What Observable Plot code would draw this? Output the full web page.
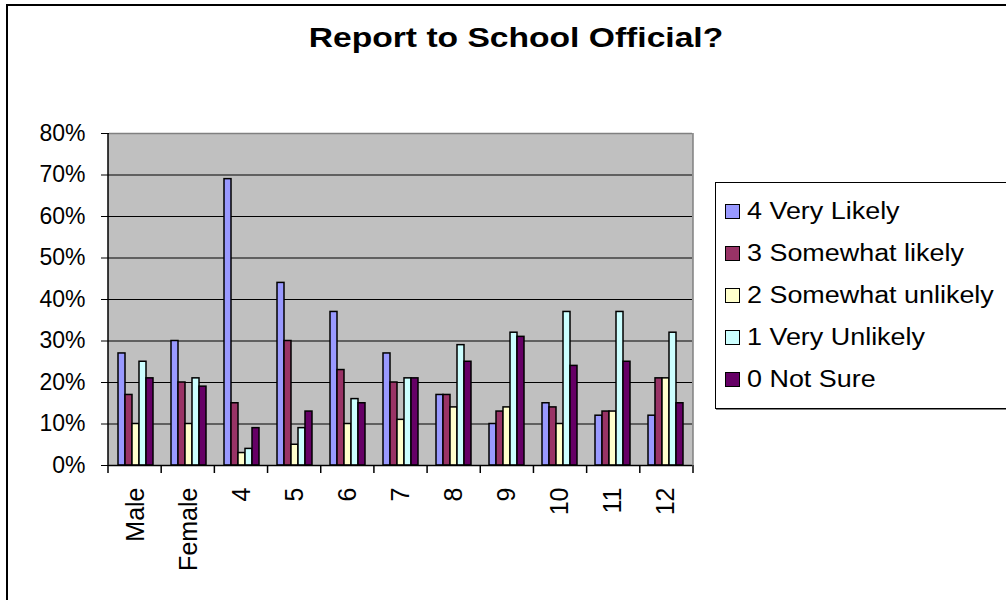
<!DOCTYPE html>
<html>
<head>
<meta charset="utf-8">
<script src="https://cdn.jsdelivr.net/npm/d3@7"></script>
<script src="https://cdn.jsdelivr.net/npm/@observablehq/plot@0.6"></script>
<style>
html, body { margin: 0; padding: 0; background: #fff; width: 1006px; height: 600px; overflow: hidden; }
body { position: relative; font-family: "Liberation Sans", Arial, sans-serif; }
#outer { position: absolute; left: 6px; top: 4px; width: 1100px; height: 700px; border: 2px solid #000; box-sizing: border-box; }
#title { position: absolute; left: 0; top: 24px; width: 1032px; text-align: center; font-weight: bold; font-size: 28px; line-height: 28px; transform: scaleX(1.2); transform-origin: 516px 0; color: #000; }
#chart { position: absolute; left: 0; top: 100px; }
#legend { position: absolute; left: 715px; top: 182px; width: 330px; height: 227px; border: 1px solid #000; box-shadow: 1px 1px 0 #808080; box-sizing: border-box; padding-top: 7px; background: #fff; }
.item { height: 42px; display: flex; align-items: center; padding-left: 9px; }
.sw { width: 13px; height: 13px; border: 1.5px solid #000; flex: none; }
.lbl { display: inline-block; font-size: 23px; margin-left: 7px; transform: scaleX(1.17); transform-origin: 0 50%; white-space: nowrap; color: #000; }
#chart g[aria-label="fx-axis tick label"] text { font-size: 25px; }
</style>
</head>
<body>
<div id="outer"></div>
<div id="title">Report to School Official?</div>
<div id="chart"></div>
<div id="legend"></div>
<script>
const categories = ["Male", "Female", "4", "5", "6", "7", "8", "9", "10", "11", "12"];
const seriesNames = ["4 Very Likely", "3 Somewhat likely", "2 Somewhat unlikely", "1 Very Unlikely", "0 Not Sure"];
const seriesColors = ["#9999FF", "#993366", "#FFFFCC", "#CCFFFF", "#660066"];
const veryLikely       = [27, 30, 69, 44, 37, 27, 17, 10, 15, 12, 12];
const somewhatLikely   = [17, 20, 15, 30, 23, 20, 17, 13, 14, 13, 21];
const somewhatUnlikely = [10, 10,  3,  5, 10, 11, 14, 14, 10, 13, 21];
const veryUnlikely     = [25, 21,  4,  9, 16, 21, 29, 32, 37, 37, 32];
const notSure          = [21, 19,  9, 13, 15, 21, 25, 31, 24, 25, 15];
const yTicks = [0, 10, 20, 30, 40, 50, 60, 70, 80];

const seriesValues = [veryLikely, somewhatLikely, somewhatUnlikely, veryUnlikely, notSure];
const rows = [];
categories.forEach((c, i) => {
  seriesNames.forEach((s, j) => rows.push({category: c, series: s, value: seriesValues[j][i]}));
});

const chart = Plot.plot({
  width: 1006,
  height: 500,
  marginTop: 33,
  marginBottom: 135,
  marginLeft: 108,
  marginRight: 313,
  style: { fontFamily: "'Liberation Sans', Arial, sans-serif", fontSize: "23px", background: "transparent", color: "#000", overflow: "visible" },
  facet: { data: rows, x: "category" },
  fx: { domain: categories, padding: 0, label: null, axis: "bottom", tickRotate: -90, tickSize: 0, tickPadding: 22 },
  x: { domain: seriesNames, paddingInner: 0, paddingOuter: 0.84, axis: null },
  y: { domain: [0, 80], ticks: yTicks, tickFormat: d => d + "%", tickSize: 8, tickPadding: 16, label: null },
  color: { domain: seriesNames, range: seriesColors },
  marks: [
    Plot.ruleY(yTicks.filter(v => v > 0 && v < 80), { stroke: "#000", strokeWidth: 1 }),
    Plot.ruleY([80], { stroke: "#808080", strokeWidth: 1.5 }),
    Plot.barY(rows, { x: "series", y: "value", fill: "series", stroke: "#000", strokeWidth: 1.5 }),
    Plot.ruleY([0], { stroke: "#000", strokeWidth: 1.5 })
  ]
});
document.getElementById("chart").appendChild(chart);

// plot-area background, y-axis line, category boundary ticks and right border, placed with the plot's own scales
const svgEl = chart.tagName.toLowerCase() === "svg" ? chart : chart.querySelector("svg");
const svg = d3.select(svgEl);
const fxS = chart.scale("fx");
const yS = chart.scale("y");
const fx = d3.scaleBand(fxS.domain, fxS.range)
  .paddingInner(fxS.paddingInner ?? 0)
  .paddingOuter(fxS.paddingOuter ?? 0)
  .align(fxS.align ?? 0.5);
const y = d3.scaleLinear(yS.domain, yS.range);
const last = categories[categories.length - 1];
const xLeft = fx(categories[0]), xRight = fx(last) + fx.bandwidth();
svg.insert("rect", ":first-child")
  .attr("x", xLeft).attr("y", y(80))
  .attr("width", xRight - xLeft).attr("height", y(0) - y(80))
  .attr("fill", "#C0C0C0");
const edges = categories.map(c => fx(c)).concat([xRight]);
const g = svg.append("g");
g.append("line")
  .attr("x1", xRight).attr("x2", xRight).attr("y1", y(80)).attr("y2", y(0))
  .attr("stroke", "#808080").attr("stroke-width", 1.5);
g.append("line")
  .attr("x1", xLeft).attr("x2", xLeft).attr("y1", y(80)).attr("y2", y(0))
  .attr("stroke", "#000").attr("stroke-width", 1.5);
g.selectAll("line.tk").data(edges).join("line").attr("class", "tk")
  .attr("x1", d => d).attr("x2", d => d)
  .attr("y1", y(0)).attr("y2", y(0) + 8)
  .attr("stroke", "#000").attr("stroke-width", 1.5);

const legend = document.getElementById("legend");
seriesNames.forEach((s, j) => {
  const item = document.createElement("div");
  item.className = "item";
  const sw = document.createElement("span");
  sw.className = "sw";
  sw.style.background = seriesColors[j];
  const lbl = document.createElement("span");
  lbl.className = "lbl";
  lbl.textContent = s;
  item.appendChild(sw);
  item.appendChild(lbl);
  legend.appendChild(item);
});
</script>
</body>
</html>
